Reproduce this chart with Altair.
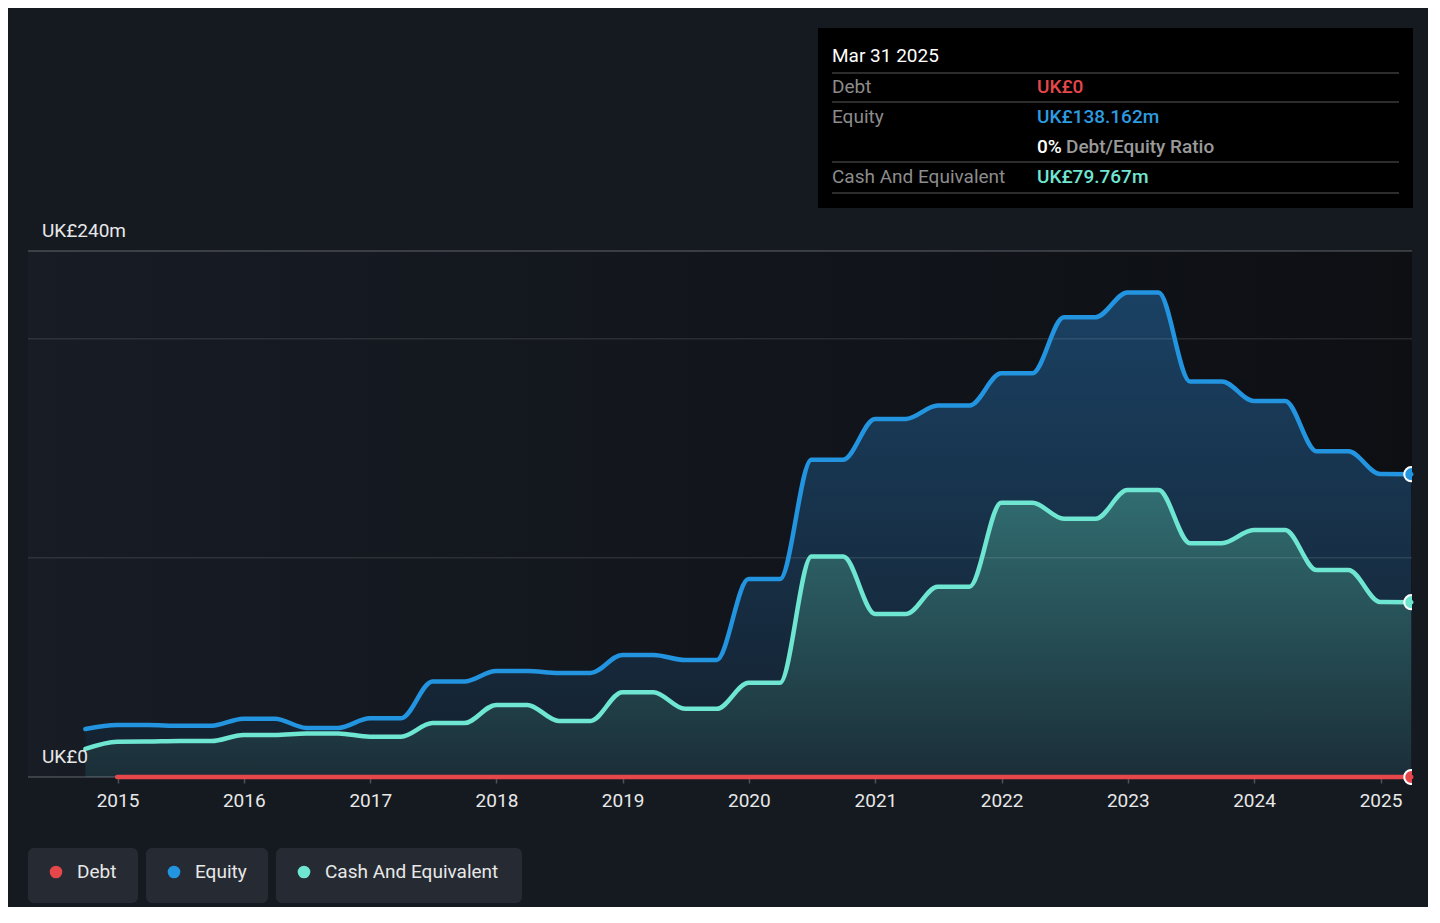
import altair as alt
import pandas as pd

# ---------------- data ----------------
DATES = [
    "2014-09-30", "2014-12-31", "2015-03-31", "2015-06-30", "2015-09-30",
    "2015-12-31", "2016-03-31", "2016-06-30", "2016-09-30", "2016-12-31",
    "2017-03-31", "2017-06-30", "2017-09-30", "2017-12-31", "2018-03-31",
    "2018-06-30", "2018-09-30", "2018-12-31", "2019-03-31", "2019-06-30",
    "2019-09-30", "2019-12-31", "2020-03-31", "2020-06-30", "2020-09-30",
    "2020-12-31", "2021-03-31", "2021-06-30", "2021-09-30", "2021-12-31",
    "2022-03-31", "2022-06-30", "2022-09-30", "2022-12-31", "2023-03-31",
    "2023-06-30", "2023-09-30", "2023-12-31", "2024-03-31", "2024-06-30",
    "2024-09-30", "2024-12-31", "2025-03-31",
]
EQUITY = [
    21.9, 23.7, 23.7, 23.4, 23.4,
    26.6, 26.6, 22.4, 22.4, 26.8,
    26.8, 43.6, 43.6, 48.4, 48.4,
    47.5, 47.5, 55.7, 55.7, 53.4,
    53.4, 90.3, 90.3, 144.8, 144.8,
    163.4, 163.4, 169.5, 169.5, 184.2,
    184.2, 209.8, 209.8, 221.1, 221.1,
    180.5, 180.5, 171.6, 171.6, 148.6,
    148.6, 138.2, 138.162,
]
CASH = [
    12.8, 16.1, 16.2, 16.4, 16.4,
    19.2, 19.2, 19.9, 19.9, 18.4,
    18.4, 24.6, 24.6, 32.9, 32.9,
    25.6, 25.6, 38.7, 38.7, 31.1,
    31.1, 43.0, 43.0, 100.6, 100.6,
    74.4, 74.4, 86.8, 86.8, 125.1,
    125.1, 117.8, 117.8, 130.9, 130.9,
    106.7, 106.7, 112.7, 112.7, 94.4,
    94.4, 79.8, 79.767,
]
DEBT_DATES = DATES[1:]
DEBT = [
    0, 0, 0, 0, 0, 0, 0, 0, 0, 0,
    0, 0, 0, 0, 0, 0, 0, 0, 0, 0,
    0, 0, 0, 0, 0, 0, 0, 0, 0, 0,
    0, 0, 0, 0, 0, 0, 0, 0, 0, 0,
    0, 0,
]
SERIES = ["Debt", "Equity", "Cash And Equivalent"]
SERIES_COLORS = ["#e5474b", "#2394df", "#6ee6d1"]
TICK_YEARS = [2015, 2016, 2017, 2018, 2019, 2020, 2021, 2022, 2023, 2024, 2025]
GRID_MAJOR = [0, 240]
GRID_MINOR = [100, 200]
Y_LABEL_VALUES = [0, 240]
Y_LABEL_TEXTS = ["UK£0", "UK£240m"]
TOOLTIP_DATE = "Mar 31 2025"

# ---------------- tables ----------------
eq_df = pd.DataFrame({"date": DATES, "value": EQUITY})
cash_df = pd.DataFrame({"date": DATES, "value": CASH})
debt_df = pd.DataFrame({"date": DEBT_DATES, "value": DEBT})
ylab_df = pd.DataFrame({"value": Y_LABEL_VALUES, "label": Y_LABEL_TEXTS})
ONE = pd.DataFrame({"k": [0]})

W, H = 1384, 526
EXTRA = 8  # room below the baseline so the end dot on it is not cut vertically
FONT = "Roboto"

x_enc = alt.X(
    "date:T",
    scale=alt.Scale(domain=[alt.DateTime(year=2014, month=4, date=17),
                            alt.DateTime(year=2025, month=4, date=2)]),
    axis=alt.Axis(
        values=[alt.DateTime(year=y, month=1, date=1) for y in TICK_YEARS],
        format="%Y", labelFontSize=19, labelColor="#e8e8e8", labelFont=FONT,
        tickColor="#4d5258", tickSize=6, tickWidth=1.5, domain=False,
        grid=False, labelPadding=8, title=None, offset=-EXTRA,
    ),
)
y_scale = alt.Scale(domain=[0, 240], nice=False, zero=True, range=[H, 0])
y_enc = alt.Y("value:Q", scale=y_scale, axis=None)


def grad_v(c0, c1):
    return alt.Gradient(gradient="linear",
                        stops=[alt.GradientStop(color=c0, offset=0),
                               alt.GradientStop(color=c1, offset=1)],
                        x1=0, x2=0, y1=0, y2=1)


def grad_h(c0, c1):
    return alt.Gradient(gradient="linear",
                        stops=[alt.GradientStop(color=c0, offset=0),
                               alt.GradientStop(color=c1, offset=1)],
                        x1=0, x2=1, y1=0, y2=0)


layers = []

# plot background
layers.append(alt.Chart(ONE).mark_rect(fill=grad_h("#171c25", "#0d0f13")).encode(
    x=alt.value(0), x2=alt.value(W), y=alt.value(0), y2=alt.value(H)))

# areas
layers.append(alt.Chart(eq_df).mark_area(
    interpolate="monotone", fill=grad_v("#1a4163", "#14202d")).encode(x=x_enc, y=y_enc))
layers.append(alt.Chart(cash_df).mark_area(
    interpolate="monotone", fill=grad_v("#316d71", "#1b2e38")).encode(x=x_enc, y=y_enc))

# grid lines
layers.append(alt.Chart(pd.DataFrame({"value": GRID_MINOR})).mark_rule(
    color="#ffffff", strokeOpacity=0.1, strokeWidth=1.5).encode(
    y=y_enc, x=alt.value(0), x2=alt.value(W)))
layers.append(alt.Chart(pd.DataFrame({"value": GRID_MAJOR})).mark_rule(
    color="#ffffff", strokeOpacity=0.22, strokeWidth=1.5).encode(
    y=y_enc, x=alt.value(0), x2=alt.value(W)))

# lines
layers.append(alt.Chart(eq_df).mark_line(
    interpolate="monotone", color=SERIES_COLORS[1], strokeWidth=4.5,
    strokeCap="round").encode(x=x_enc, y=y_enc))
layers.append(alt.Chart(cash_df).mark_line(
    interpolate="monotone", color=SERIES_COLORS[2], strokeWidth=4.5,
    strokeCap="round").encode(x=x_enc, y=y_enc))
layers.append(alt.Chart(debt_df).mark_line(
    color=SERIES_COLORS[0], strokeWidth=4.5, strokeCap="round").encode(x=x_enc, y=y_enc))

# end dots
for df, col in [(eq_df, SERIES_COLORS[1]), (cash_df, SERIES_COLORS[2]), (debt_df, SERIES_COLORS[0])]:
    layers.append(alt.Chart(df.tail(1)).mark_point(
        filled=True, fill=col, stroke="#ffffff", strokeWidth=2, size=200,
        opacity=1, clip=True).encode(x=x_enc, y=y_enc))

# y labels
layers.append(alt.Chart(ylab_df).mark_text(
    align="left", baseline="middle", dy=-20, fontSize=19, font=FONT,
    color="#e8e8e8").encode(x=alt.value(14), y=y_enc, text="label:N"))


def txt(s, x, y, color, size=19, weight="normal", align="left"):
    return alt.Chart(ONE).mark_text(
        text=s, align=align, baseline="middle", fontSize=size, font=FONT,
        fontWeight=weight, color=color).encode(x=alt.value(x), y=alt.value(y))


def hline(x0, x1, y, color, width=1.5):
    return alt.Chart(ONE).mark_rule(color=color, strokeWidth=width).encode(
        x=alt.value(x0), x2=alt.value(x1), y=alt.value(y))


# tooltip box
layers.append(alt.Chart(ONE).mark_rect(fill="#000000").encode(
    x=alt.value(790), x2=alt.value(1385), y=alt.value(-223), y2=alt.value(-43)))
for yy in [-178, -149, -89, -58]:
    layers.append(hline(804, 1371, yy, "#3b3b3b"))
layers.append(txt(TOOLTIP_DATE, 804, -195, "#ffffff"))
layers.append(txt(SERIES[0], 804, -164, "#8c8c8c"))
layers.append(txt(SERIES[1], 804, -134, "#8c8c8c"))
layers.append(txt(SERIES[2], 804, -74, "#8c8c8c"))
debt_last = DEBT[-1]
eq_last = EQUITY[-1]
cash_last = CASH[-1]
layers.append(txt(f"UK£{debt_last:g}", 1009, -164, SERIES_COLORS[0], weight=500))
layers.append(txt(f"UK£{eq_last:.3f}m", 1009, -134, "#2d9be0", weight=500))
layers.append(txt(f"{debt_last / eq_last * 100:.0f}%", 1009, -104, "#ffffff", weight=500))
layers.append(txt("Debt/Equity Ratio", 1038, -104, "#9a9a9a", weight=500))
layers.append(txt(f"UK£{cash_last:.3f}m", 1009, -74, "#71e6d3", weight=500))

# legend
LEG_BOXES = [(0, 110), (118, 240), (248, 494)]
for i, name in enumerate(SERIES):
    x0, x1 = LEG_BOXES[i]
    layers.append(alt.Chart(ONE).mark_rect(fill="#262b33", cornerRadius=6).encode(
        x=alt.value(x0), x2=alt.value(x1), y=alt.value(597), y2=alt.value(652)))
    layers.append(alt.Chart(ONE).mark_circle(size=160, color=SERIES_COLORS[i], opacity=1).encode(
        x=alt.value(x0 + 28), y=alt.value(621)))
    layers.append(txt(name, x0 + 49, 621, "#e8e8e8", size=19))

chart = alt.layer(*layers).properties(
    width=W, height=H + EXTRA,
    autosize=alt.AutoSizeParams(type="none"),
    padding={"left": 20, "top": 243, "right": 16, "bottom": 130 - EXTRA},
).configure(background="#151a21").configure_view(stroke=None)

chart.save("out.html", embed_options={"renderer": "svg", "actions": False})
